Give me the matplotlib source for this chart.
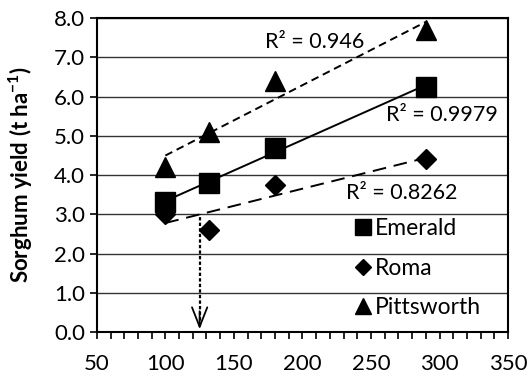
import numpy as np
import matplotlib.pyplot as plt
from matplotlib.lines import Line2D
from matplotlib.ticker import MultipleLocator

plt.rcParams['font.family'] = ['Lato', 'DejaVu Sans']
plt.rcParams['mathtext.default'] = 'regular'

# N rate (x) and sorghum yields (t/ha)
n_rate = [100, 132, 180, 290]
emerald = [3.3, 3.8, 4.7, 6.25]
roma = [3.0, 2.6, 3.75, 4.4]
pittsworth = [4.2, 5.1, 6.4, 7.7]
sites = ['Emerald', 'Roma', 'Pittsworth']
r2_labels = ['R² = 0.9979', 'R² = 0.8262', 'R² = 0.946']
threshold_rate = 125

fig, ax = plt.subplots(figsize=(5.32, 3.76), dpi=100)
fig.subplots_adjust(left=0.182, right=0.955, top=0.952, bottom=0.117)

ax.set_xlim(50, 350)
ax.set_ylim(0, 8)
ax.yaxis.set_major_locator(MultipleLocator(1))
ax.xaxis.set_major_locator(MultipleLocator(50))
ax.xaxis.set_minor_locator(MultipleLocator(10))
ax.yaxis.set_major_formatter(plt.FormatStrFormatter('%.1f'))
ax.grid(axis='y', color='#333333', linewidth=1.0)
ax.set_axisbelow(True)
for sp in ax.spines.values():
    sp.set_linewidth(1.5)
ax.tick_params(axis='both', which='both', direction='out', length=5, width=1.2,
               labelsize=16, colors='black')
ax.tick_params(axis='x', pad=11)

x = np.array(n_rate)
xfit = np.array([x.min(), x.max()])
styles = [('s', 14, '-'), ('D', 10, (0, (7, 4))), ('^', 15, (0, (4, 2.5)))]
fits = []
for y, (m, ms, ls) in zip([emerald, roma, pittsworth], styles):
    p = np.polyfit(x, y, 1)
    fits.append(p)
    ax.plot(xfit, np.polyval(p, xfit), color='black', linestyle=ls, linewidth=1.4, zorder=3)
    ax.plot(x, y, linestyle='none', marker=m, markersize=ms, color='black', zorder=4)

# R squared labels
ax.text(173, 7.39, r2_labels[2], fontsize=15.5, va='center', ha='left')
ax.text(261, 5.53, r2_labels[0], fontsize=15.5, va='center', ha='left')
ax.text(232, 3.54, r2_labels[1], fontsize=15.5, va='center', ha='left')

# dotted drop line from the Roma trend line to the x axis
y_thr = np.polyval(fits[1], threshold_rate)
ax.vlines(threshold_rate, 0.15, y_thr, colors='black', linestyles=(0, (1.5, 1)), linewidth=1.6, zorder=3)
ax.annotate('', xy=(threshold_rate, 0), xytext=(threshold_rate, 0.6),
            arrowprops=dict(arrowstyle='->,head_length=1.4,head_width=0.55', color='black', lw=1.3))

handles = [Line2D([], [], linestyle='none', marker=m, markersize=ms * 0.8, color='black')
           for m, ms, _ in styles]
ax.legend(handles, sites, loc='upper left', bbox_to_anchor=(0.626, 0.362), frameon=False,
          fontsize=16.5, handlelength=0.8, handletextpad=0.12, labelspacing=0.8,
          borderpad=0, borderaxespad=0)

ax.set_ylabel('Sorghum yield (t ha$^{-1}$)', fontsize=16, fontweight='bold')
ax.yaxis.set_label_coords(-0.151, 0.5)

fig.savefig('out.png', dpi=100)
